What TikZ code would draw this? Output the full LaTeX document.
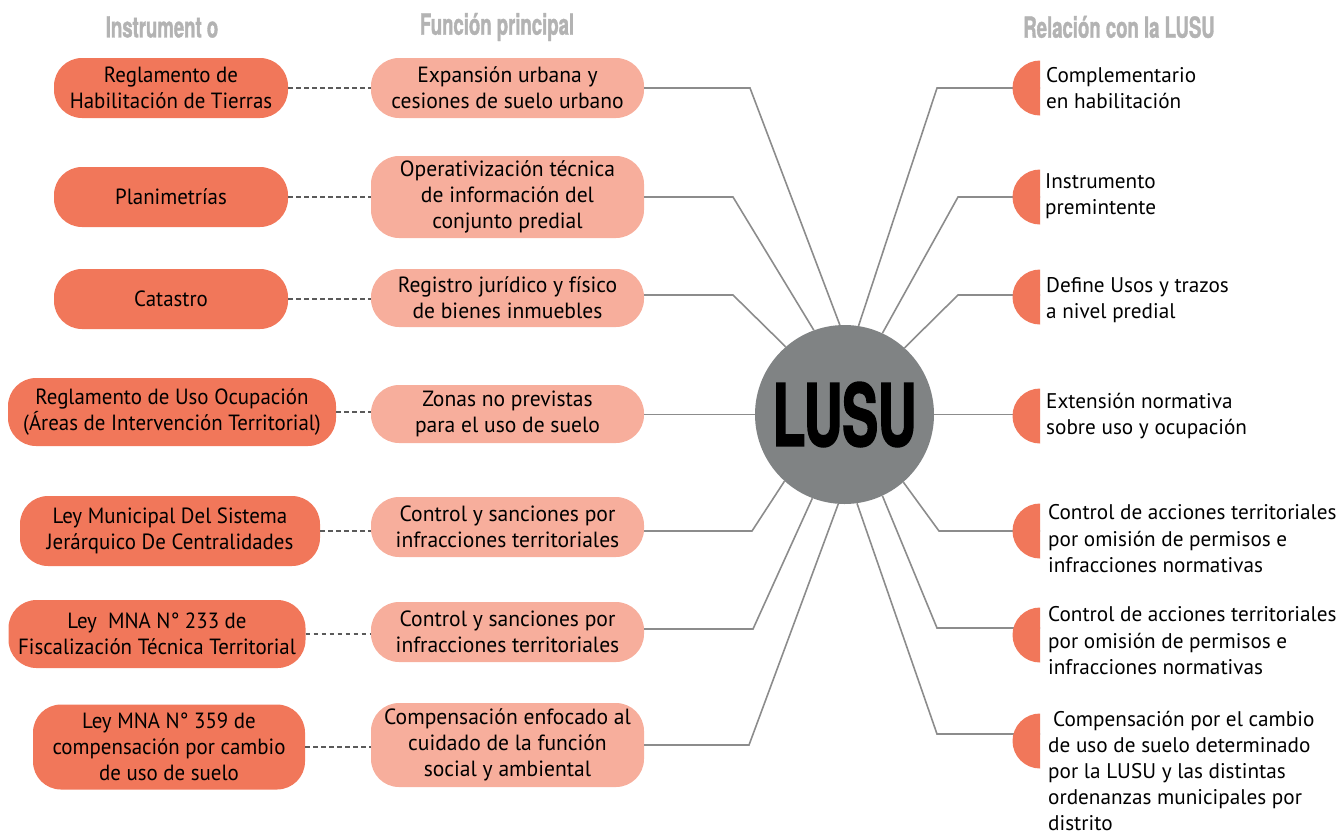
\documentclass[tikz,border=0pt]{standalone}
\usepackage{fontspec}
\setmainfont{PT Sans}
\newfontfamily\narrowfont[FakeStretch=0.95]{PT Sans}
\newfontfamily\midfont[FakeStretch=0.98]{PT Sans}
\newfontfamily\headfont[FakeStretch=0.64,FakeBold=1.2]{TeX Gyre Heros}
\newfontfamily\lusufont[FakeStretch=0.62,FakeBold=2]{TeX Gyre Heros}
\definecolor{darkbox}{HTML}{F1775A}
\definecolor{lightbox}{HTML}{F7AE9C}
\definecolor{hubgray}{HTML}{808384}
\definecolor{linegray}{HTML}{8C8C8C}
\definecolor{dashgray}{HTML}{5A5A5A}
\definecolor{headgray}{HTML}{B3B3B3}
\tikzset{
  instbox/.style={fill=darkbox, rounded corners=28pt, inner sep=0pt, align=center,
    font=\narrowfont\fontsize{22}{26}\selectfont},
  funcbox/.style={fill=lightbox, rounded corners=28pt, inner sep=0pt, align=center,
    minimum width=273pt, font=\midfont\fontsize{22}{26}\selectfont},
  reltext/.style={anchor=west, inner sep=0pt, align=left,
    font=\fontsize{21.2}{26.5}\selectfont},
  header/.style={text=headgray, font=\headfont\bfseries\fontsize{29}{29}\selectfont},
  conn/.style={draw=linegray, line width=1.6pt},
  dashconn/.style={draw=dashgray, line width=2.2pt, dash pattern=on 4.5pt off 3.5pt},
  disc/.style={fill=darkbox}
}
\begin{document}
\begin{tikzpicture}[x=1pt,y=-1pt]
\useasboundingbox (0,0) rectangle (1343,836);

% column headers
\node[header] (h1) at (162,27) {Instrument o};
\node[header] (h2) at (497,27) {Función principal};
\node[header] (h3) at (1119,27) {Relación con la LUSU};

% instruments
\node[instbox, minimum width=234pt, minimum height=60pt] (L1) at (171,88) {Reglamento de\\Habilitación de Tierras};
\node[instbox, minimum width=234pt, minimum height=60pt] (L2) at (171,197) {Planimetrías};
\node[instbox, minimum width=234pt, minimum height=60pt] (L3) at (171,299) {Catastro};
\node[instbox, minimum width=328pt, minimum height=68pt] (L4) at (172,412) {Reglamento de Uso Ocupación\\(Áreas de Intervención Territorial)};
\node[instbox, minimum width=300pt, minimum height=70pt] (L5) at (170,531) {Ley Municipal Del Sistema\\Jerárquico De Centralidades};
\node[instbox, minimum width=297pt, minimum height=68pt] (L6) at (157,634) {Ley~~MNA N° 233 de\\Fiscalización Técnica Territorial};
\node[instbox, minimum width=272pt, minimum height=85pt] (L7) at (169,747) {Ley MNA N° 359 de\\compensación por cambio\\de uso de suelo};

% main functions
\node[funcbox, minimum height=60pt] (M1) at (507.5,88) {Expansión urbana y\\cesiones de suelo urbano};
\node[funcbox, minimum height=82pt] (M2) at (507.5,197) {Operativización técnica\\de información del\\conjunto predial};
\node[funcbox, minimum height=58pt] (M3) at (507.5,298) {Registro jurídico y físico\\de bienes inmuebles};
\node[funcbox, minimum height=58pt] (M4) at (507.5,414) {Zonas no previstas\\para el uso de suelo};
\node[funcbox, minimum height=60pt] (M5) at (507.5,527) {Control y sanciones por\\infracciones territoriales};
\node[funcbox, minimum height=60pt] (M6) at (507.5,632) {Control y sanciones por\\infracciones territoriales};
\node[funcbox, minimum height=84pt] (M7) at (507.5,745) {Compensación enfocado al\\cuidado de la función\\social y ambiental};

% dotted links instrument -> function
\foreach \k in {1,...,7}
  \draw[dashconn] (L\k.east) -- (L\k.east -| M\k.west);

% hub
\node[circle, fill=hubgray, minimum size=179pt, inner sep=0pt] (lusu) at (844.5,414.5) {};
\node[inner sep=0pt, font=\lusufont\bfseries\fontsize{86}{86}\selectfont] (lusutext) at (lusu.center) {LUSU};

% bend points, left side
\coordinate (b1) at (750,88);
\coordinate (b2) at (733,197);
\coordinate (b3) at (733,295);
\coordinate (b5) at (752,531);
\coordinate (b6) at (753,629);
\coordinate (b7) at (749,745);
\draw[conn] (M1.east |- b1) -- (b1) -- (lusu.93.5);
\draw[conn] (M2.east |- b2) -- (b2) -- (lusu.110.2);
\draw[conn] (M3.east |- b3) -- (b3) -- (lusu.131.4);
\draw[conn] (M4.east |- lusu.west) -- (lusu.west);
\draw[conn] (M5.east |- b5) -- (b5) -- (lusu.228.6);
\draw[conn] (M6.east |- b6) -- (b6) -- (lusu.249.3);
\draw[conn] (M7.east |- b7) -- (b7) -- (lusu.266.4);

% relation markers (flat edge of each half disc)
\coordinate (d1) at (1040,88);
\coordinate (d2) at (1040,197);
\coordinate (d3) at (1040,297);
\coordinate (d4) at (1040,416);
\coordinate (d5) at (1040,531);
\coordinate (d6) at (1040,635);
\coordinate (d7) at (1040,741);

% bend points, right side
\coordinate (r1) at (937,88);
\coordinate (r2) at (958,197);
\coordinate (r3) at (958,295);
\coordinate (r5) at (939,531);
\coordinate (r6) at (937,628);
\coordinate (r7) at (937,734);
\draw[conn] (lusu.81.5) -- (r1) -- (r1 -| d1);
\draw[conn] (lusu.65.2) -- (r2) -- (r2 -| d2);
\draw[conn] (lusu.48.1) -- (r3) -- (r3 -| d3);
\draw[conn] (lusu.east) -- (lusu.east -| d4);
\draw[conn] (lusu.311.4) -- (r5) -- (r5 -| d5);
\draw[conn] (lusu.295) -- (r6) -- (r6 -| d6);
\draw[conn] (lusu.278.7) -- (r7) -- (r7 -| d7);

\foreach \k in {1,...,7}
  \fill[disc] (d\k) ++(0,-27.5) arc[start angle=90, end angle=270, radius=27.5pt] -- cycle;

% relation texts
\node[reltext] (t1) at (1046,88) {Complementario\\en habilitación};
\node[reltext] (t2) at (1045,196) {Instrumento\\premintente};
\node[reltext] (t3) at (1046,300) {Define Usos y trazos\\a nivel predial};
\node[reltext] (t4) at (1046,416) {Extensión normativa\\sobre uso y ocupación};
\node[reltext] (t5) at (1048,539) {Control de acciones territoriales\\por omisión de permisos e\\infracciones normativas};
\node[reltext] (t6) at (1048,641) {Control de acciones territoriales\\por omisión de permisos e\\infracciones normativas};
\node[reltext, font=\fontsize{21.2}{26.2}\selectfont] (t7) at (1048,771) {\hspace{5pt}Compensación por el cambio\\de uso de suelo determinado\\por la LUSU y las distintas\\ordenanzas municipales por\\distrito};
\end{tikzpicture}
\end{document}
